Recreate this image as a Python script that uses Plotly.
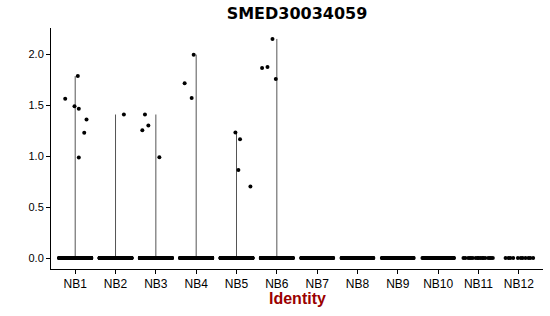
import plotly.graph_objects as go

# ---- data ----
categories = ["NB1", "NB2", "NB3", "NB4", "NB5", "NB6",
              "NB7", "NB8", "NB9", "NB10", "NB11", "NB12"]

# non-zero expression values per identity
nonzero_values = {
    "NB1": [1.565, 1.492, 1.787, 1.467, 1.361, 1.230, 0.987],
    "NB2": [1.410],
    "NB3": [1.256, 1.410, 1.302, 0.990],
    "NB4": [1.716, 1.571, 1.998],
    "NB5": [1.233, 1.167, 0.866, 0.702],
    "NB6": [1.866, 1.876, 2.152, 1.758],
    "NB7": [], "NB8": [], "NB9": [], "NB10": [], "NB11": [], "NB12": [],
}
# horizontal jitter of the non-zero points (category units)
nonzero_jitter = {
    "NB1": [-0.248, -0.017, 0.065, 0.089, 0.281, 0.224, 0.089],
    "NB2": [0.207],
    "NB3": [-0.335, -0.270, -0.186, 0.087],
    "NB4": [-0.286, -0.112, -0.062],
    "NB5": [-0.027, 0.087, 0.047, 0.345],
    "NB6": [-0.366, -0.232, -0.108, -0.026],
    "NB7": [], "NB8": [], "NB9": [], "NB10": [], "NB11": [], "NB12": [],
}
# number of cells with zero expression (estimated)
zero_counts = [400, 400, 400, 400, 400, 300, 150, 130, 100, 60, 17, 11]

title_text = "SMED30034059"
x_title = "Identity"
y_ticks = [0.0, 0.5, 1.0, 1.5, 2.0]

# ---- build figure ----
fig = go.Figure()
GOLD = 0.6180339887498949
JW = 0.4  # jitter half width

# violin (degenerate -> vertical line from min to max)
for i, cat in enumerate(categories):
    vals = nonzero_values[cat] + ([0.0] if zero_counts[i] else [])
    lo, hi = min(vals), max(vals)
    if hi > lo:
        fig.add_trace(go.Scatter(x=[i + 1, i + 1], y=[lo, hi], mode="lines",
                                 line=dict(color="#555555", width=1),
                                 hoverinfo="skip", showlegend=False))

# jittered points
xs, ys = [], []
for i, cat in enumerate(categories):
    n = zero_counts[i]
    for k in range(n):
        frac = ((k + 1) * GOLD) % 1.0
        xs.append(i + 1 + (frac * 2 - 1) * JW)
        ys.append(0.0)
    for v, j in zip(nonzero_values[cat], nonzero_jitter[cat]):
        xs.append(i + 1 + j)
        ys.append(v)

fig.add_trace(go.Scatter(x=xs, y=ys, mode="markers",
                         marker=dict(color="black", size=4, line=dict(width=0)),
                         hoverinfo="skip", showlegend=False))

all_vals = [v for c in categories for v in nonzero_values[c]] + [0.0]
ymax, ymin = max(all_vals), min(all_vals)
pad = 0.05 * (ymax - ymin)

fig.update_layout(
    width=550, height=316,
    margin=dict(l=51, r=7, t=28, b=47),
    paper_bgcolor="white", plot_bgcolor="white",
    font=dict(family="Liberation Sans, Arial, sans-serif", color="black"),
    title=dict(text=title_text, x=0.5, xref="paper", xanchor="center",
               y=1 - 13.5 / 316, yref="container", yanchor="middle",
               font=dict(family="DejaVu Sans, sans-serif", size=16,
                         color="black", weight="bold")),
    xaxis=dict(range=[0.4, len(categories) + 0.6],
               tickmode="array", tickvals=list(range(1, len(categories) + 1)),
               ticktext=categories,
               showgrid=False, zeroline=False,
               showline=True, linecolor="black", linewidth=1,
               ticks="outside", ticklen=4, tickwidth=1, tickcolor="black",
               tickfont=dict(size=12, color="black")),
    yaxis=dict(range=[ymin - pad, ymax + pad],
               tickmode="array", tickvals=y_ticks,
               ticktext=[f"{t:.1f}" for t in y_ticks],
               showgrid=False, zeroline=False,
               showline=True, linecolor="black", linewidth=1,
               ticks="outside", ticklen=4, tickwidth=1, tickcolor="black",
               tickfont=dict(size=11, color="black")),
    annotations=[dict(text=x_title, xref="paper", yref="paper",
                      x=0.5, y=-0.122, xanchor="center", yanchor="middle",
                      showarrow=False,
                      font=dict(family="Liberation Sans, Arial, sans-serif",
                                size=16, color="#9b0000", weight="bold"))],
)

fig.write_html("out.html")
